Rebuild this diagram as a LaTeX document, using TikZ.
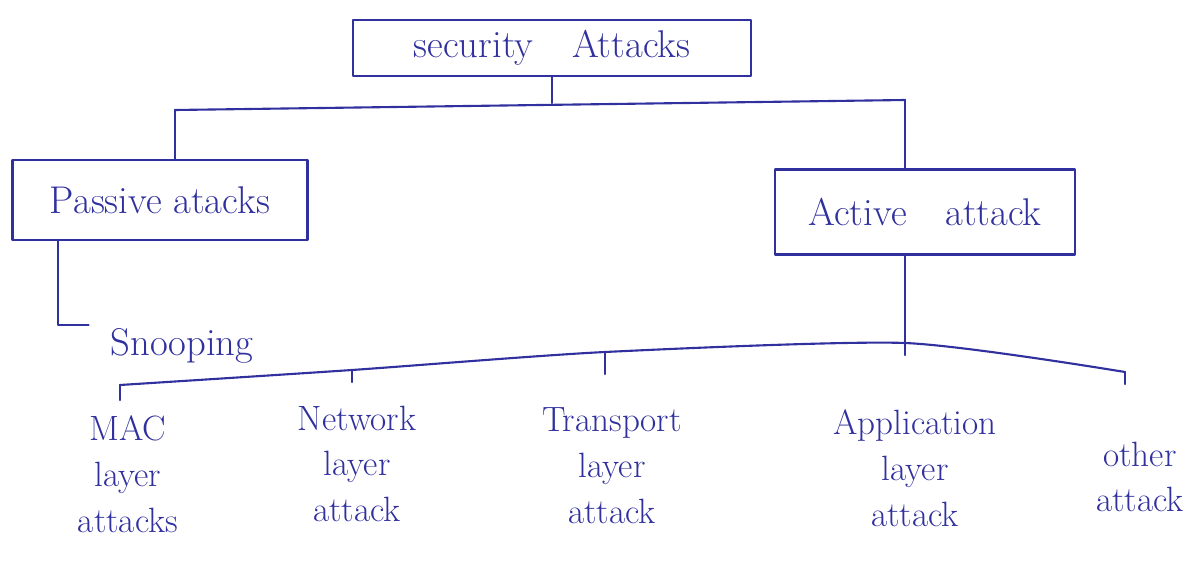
\documentclass[tikz,border=0pt]{standalone}
\usepackage{tikz}
\usetikzlibrary{calc}
\usetikzlibrary{positioning}

\definecolor{inkblue}{RGB}{48,48,158}

\tikzset{
  ink/.style={draw=inkblue, line width=1.2pt, line cap=round, line join=round},
  box/.style={ink, rectangle, inner sep=0pt, text=inkblue, font=\fontsize{22}{26}\selectfont},
  leaf/.style={text=inkblue, align=center, inner sep=2pt, font=\fontsize{20}{26}\selectfont}
}

\begin{document}
\begin{tikzpicture}[x=0.02cm, y=-0.02cm]
            \useasboundingbox (0,0) rectangle (1201,568);

            \node[box, minimum width=7.96cm, minimum height=1.12cm] (sec) at (552,48) {security\quad Attacks};
            \node[box, minimum width=5.9cm, minimum height=1.6cm] (pas) at (160,200) {Passive atacks};
            \node[box, minimum width=6cm, minimum height=1.7cm] (act) at (925,212) {Active\quad attack};

            \coordinate (t) at (552,103);
            \coordinate (tl) at (175,110);
            \coordinate (tr) at (905,100);
            \coordinate (ps) at (58,325);

            \node[leaf, font=\fontsize{22}{26}\selectfont] (snp) at (182,346) {Snooping};

            \coordinate (b1) at (120,385);
            \coordinate (b2) at (352,370);
            \coordinate (b3) at (605,352);
            \coordinate (b4) at (905,343);
            \coordinate (b5) at (1125,372);

            \node[leaf, anchor=north] (mac) at (128,412) {MAC\\layer\\attacks};
            \node[leaf, anchor=north] (net) at (357,402) {Network\\layer\\attack};
            \node[leaf, anchor=north] (tra) at (612,404) {Transport\\layer\\attack};
            \node[leaf, anchor=north] (app) at (915,406) {Application\\layer\\attack};
            \node[leaf, anchor=north] (oth) at (1140,438) {other\\attack};

            \coordinate (e1) at (120,400);
            \coordinate (e2) at (352,382);
            \coordinate (e3) at (605,374);
            \coordinate (e4) at (905,355);
            \coordinate (e5) at (1125,384);

            \draw[ink] (sec.south -| t) -- (t);
            \draw[ink] (tl) -- (tr);
            \draw[ink] (tl) -- (tl |- pas.north);
            \draw[ink] (tr) -- (tr |- act.north);

            \draw[ink] (ps |- pas.south) -- (ps) -- ($(snp.west |- ps)+(-18,0)$);

            \draw[ink] (act.south -| b4) -- (b4);
            \draw[ink] plot[smooth, tension=0.4] coordinates {(b1) (b2) (b3) (b4) (b5)};

            \foreach \p in {1,...,5}{
                \draw[ink] (b\p) -- (e\p);
            }
        \end{tikzpicture}
\end{document}
